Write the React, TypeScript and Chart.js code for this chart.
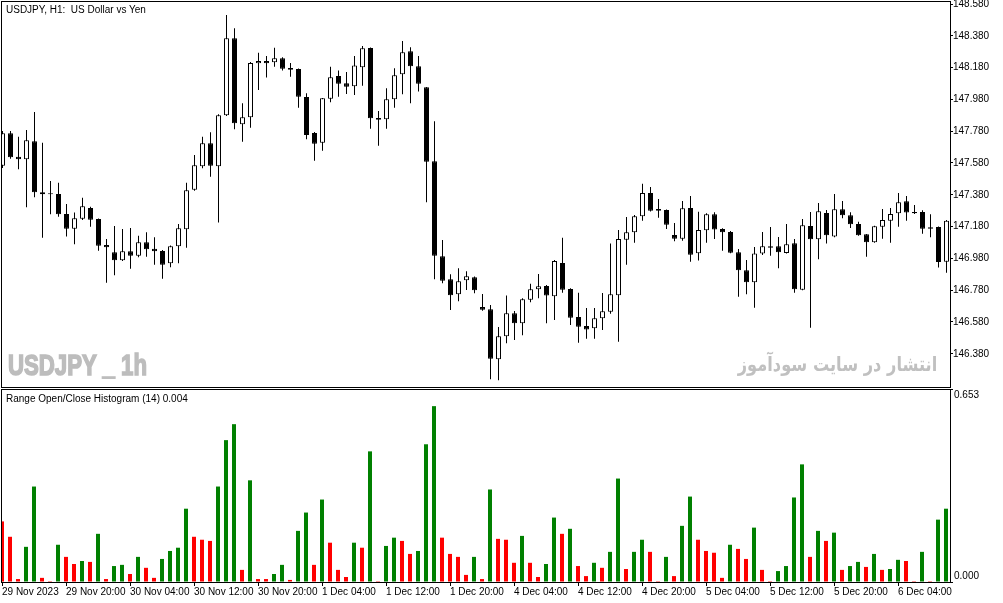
import { useEffect, useRef } from 'react';
import { Chart } from 'chart.js/auto';

// USDJPY H1 candles, left to right
const opens = [
  147.563, 147.767, 147.620, 147.603, 147.717, 147.396, 147.387, 147.385, 147.259, 147.167,
  147.230, 147.297, 147.228, 147.064, 147.018, 146.968, 147.025, 146.997, 147.081, 147.041,
  147.027, 146.949, 147.056, 147.163, 147.412, 147.559, 147.704, 147.559, 147.880, 148.364,
  147.823, 147.868, 148.207, 148.222, 148.213, 148.239, 148.178, 148.171, 147.995, 147.769,
  147.708, 147.984, 148.127, 148.081, 148.062, 148.182, 148.303, 147.863, 147.855, 147.981,
  148.138, 148.283, 148.188, 148.056, 147.591, 146.993, 146.849, 146.754, 146.842, 146.861,
  146.674, 146.660, 146.346, 146.490, 146.635, 146.572, 146.720, 146.786, 146.806, 146.742,
  146.951, 146.788, 146.612, 146.555, 146.540, 146.603, 146.645, 146.748, 147.098, 147.144,
  147.245, 147.391, 147.291, 147.284, 147.127, 147.104, 147.297, 147.012, 147.157, 147.257,
  147.165, 147.146, 147.018, 146.905, 146.830, 147.010, 147.056, 147.056, 147.014, 147.075,
  146.783, 147.184, 147.100, 147.266, 147.117, 147.289, 147.251, 147.196, 147.132, 147.081,
  147.179, 147.217, 147.264, 147.339, 147.272, 147.272, 147.176, 147.178, 146.959,
];
const highs = [
  147.781, 147.781, 147.745, 147.788, 147.901, 147.708, 147.467, 147.456, 147.322, 147.268,
  147.362, 147.305, 147.231, 147.102, 147.184, 147.165, 147.171, 147.123, 147.144, 147.113,
  147.033, 147.061, 147.196, 147.456, 147.630, 147.745, 147.773, 147.886, 148.511, 148.427,
  147.956, 148.215, 148.274, 148.253, 148.305, 148.245, 148.209, 148.174, 148.018, 147.775,
  147.989, 148.186, 148.161, 148.152, 148.253, 148.316, 148.307, 147.907, 148.050, 148.176,
  148.347, 148.308, 148.253, 148.058, 147.842, 147.096, 146.880, 146.918, 146.899, 146.866,
  146.756, 146.687, 146.549, 146.746, 146.649, 146.729, 146.821, 146.882, 146.813, 146.970,
  147.110, 146.792, 146.764, 146.668, 146.668, 146.762, 147.073, 147.159, 147.240, 147.253,
  147.450, 147.429, 147.354, 147.288, 147.203, 147.341, 147.373, 147.274, 147.264, 147.270,
  147.169, 147.152, 147.039, 146.970, 147.052, 147.146, 147.178, 147.115, 147.196, 147.102,
  147.228, 147.272, 147.328, 147.284, 147.385, 147.341, 147.270, 147.211, 147.134, 147.186,
  147.291, 147.297, 147.391, 147.373, 147.316, 147.283, 147.257, 147.181, 147.222,
];
const lows = [
  147.549, 147.607, 147.540, 147.301, 147.364, 147.110, 147.257, 147.242, 147.117, 147.069,
  147.222, 147.179, 147.028, 146.827, 146.874, 146.964, 146.915, 146.987, 146.991, 146.940,
  146.852, 146.924, 146.949, 147.047, 147.406, 147.547, 147.494, 147.205, 147.876, 147.792,
  147.714, 147.802, 148.039, 148.117, 148.186, 148.161, 148.123, 147.928, 147.729, 147.594,
  147.657, 147.962, 147.997, 148.014, 148.008, 148.066, 147.796, 147.689, 147.796, 147.928,
  148.012, 147.956, 148.029, 147.333, 146.849, 146.823, 146.656, 146.710, 146.781, 146.761,
  146.651, 146.220, 146.213, 146.446, 146.467, 146.496, 146.704, 146.729, 146.572, 146.593,
  146.764, 146.561, 146.450, 146.475, 146.475, 146.530, 146.632, 146.456, 146.940, 147.079,
  147.217, 147.275, 147.236, 147.165, 147.088, 147.091, 146.959, 146.966, 147.079, 147.102,
  147.028, 147.012, 146.739, 146.754, 146.670, 147.001, 146.997, 146.918, 147.011, 146.764,
  146.779, 146.544, 146.974, 147.073, 147.113, 147.232, 147.171, 147.122, 146.991, 147.079,
  147.104, 147.079, 147.179, 147.217, 147.259, 147.135, 147.113, 146.922, 146.890,
];
const closes = [
  147.767, 147.616, 147.603, 147.723, 147.396, 147.383, 147.383, 147.257, 147.167, 147.232,
  147.308, 147.223, 147.060, 147.050, 146.968, 147.025, 146.997, 147.081, 147.037, 147.025,
  146.940, 147.056, 147.169, 147.408, 147.566, 147.704, 147.563, 147.880, 148.364, 147.830,
  147.868, 148.209, 148.222, 148.207, 148.239, 148.173, 148.167, 147.997, 147.756, 147.701,
  147.987, 148.119, 148.079, 148.060, 148.194, 148.301, 147.861, 147.852, 147.981, 148.132,
  148.276, 148.188, 148.079, 147.588, 146.997, 146.840, 146.748, 146.836, 146.868, 146.779,
  146.657, 146.349, 146.490, 146.635, 146.572, 146.723, 146.786, 146.805, 146.746, 146.964,
  146.783, 146.607, 146.550, 146.532, 146.603, 146.647, 146.754, 147.102, 147.144, 147.245,
  147.391, 147.280, 147.280, 147.192, 147.104, 147.295, 147.003, 147.159, 147.257, 147.161,
  147.144, 147.016, 146.905, 146.830, 147.010, 147.056, 147.047, 147.018, 147.069, 146.786,
  147.188, 147.100, 147.276, 147.125, 147.289, 147.251, 147.195, 147.125, 147.081, 147.182,
  147.222, 147.259, 147.333, 147.268, 147.264, 147.167, 147.167, 146.957, 147.217,
];

// Range Open/Close Histogram (14)
const histValues = [
  0.205, 0.153, 0.010, 0.119, 0.323, 0.014, 0.003, 0.126, 0.085, 0.061,
  0.071, 0.068, 0.163, 0.010, 0.054, 0.058, 0.027, 0.085, 0.048, 0.014,
  0.078, 0.105, 0.116, 0.248, 0.153, 0.143, 0.139, 0.323, 0.480, 0.534,
  0.041, 0.344, 0.010, 0.010, 0.027, 0.058, 0.007, 0.173, 0.235, 0.058,
  0.279, 0.133, 0.041, 0.017, 0.133, 0.116, 0.442, 0.003, 0.122, 0.150,
  0.139, 0.095, 0.105, 0.466, 0.595, 0.150, 0.095, 0.085, 0.024, 0.085,
  0.010, 0.313, 0.146, 0.143, 0.065, 0.156, 0.065, 0.017, 0.061, 0.218,
  0.163, 0.180, 0.054, 0.020, 0.065, 0.048, 0.102, 0.350, 0.044, 0.102,
  0.143, 0.102, 0.003, 0.085, 0.020, 0.190, 0.289, 0.143, 0.105, 0.099,
  0.014, 0.126, 0.112, 0.078, 0.184, 0.041, 0.003, 0.037, 0.054, 0.286,
  0.398, 0.085, 0.173, 0.139, 0.167, 0.041, 0.054, 0.068, 0.051, 0.095,
  0.041, 0.044, 0.075, 0.071, 0.003, 0.102, 0.003, 0.211, 0.248,
];
// g = green bar, r = red bar
const histColors = (
  'rrrggrrgrr' + 'grgrggrgrr' + 'ggggrrrggg' + 'rgrrggrggr' +
  'grrrgrgrgg' + 'rrgggrrrrg' + 'rgrrrgrrgg' + 'rgrrgrggrg' +
  'grrgrggrrr' + 'rgrrgrrggg' + 'grgrgrggrg' + 'rggrrgrgg'
).split('');

const priceTicks = [146.38, 146.58, 146.78, 146.98, 147.18, 147.38, 147.58, 147.78, 147.98, 148.18, 148.38, 148.58];
const histTicks = [0, 0.653];
const timeTickIdx = [0, 8, 16, 24, 32, 40, 48, 56, 64, 72, 80, 88, 96, 104, 112];
const timeLabels = [
  '29 Nov 2023', '29 Nov 20:00', '30 Nov 04:00', '30 Nov 12:00', '30 Nov 20:00',
  '1 Dec 04:00', '1 Dec 12:00', '1 Dec 20:00', '4 Dec 04:00', '4 Dec 12:00',
  '4 Dec 20:00', '5 Dec 04:00', '5 Dec 12:00', '5 Dec 20:00', '6 Dec 04:00',
];

const FONT = { family: "'Liberation Sans', Arial, sans-serif", size: 10 };

const framePlugin = {
  id: 'frame',
  afterDraw(chart: Chart) {
    const { ctx, chartArea: a } = chart;
    ctx.save();
    ctx.strokeStyle = '#000';
    ctx.lineWidth = 1;
    ctx.strokeRect(a.left + 0.5, a.top + 0.5, a.right - a.left, a.bottom - a.top);
    ctx.restore();
  },
};

// MT5 keeps the edge labels inside the pane
const histLabelsPlugin = {
  id: 'histLabels',
  afterDraw(chart: Chart) {
    const { ctx } = chart;
    const s = chart.scales.y;
    ctx.save();
    ctx.fillStyle = '#000';
    ctx.font = `10px ${FONT.family}`;
    ctx.textAlign = 'left';
    histTicks.forEach((v, i) => {
      const y = s.getPixelForValue(v);
      ctx.textBaseline = i === 0 ? 'bottom' : 'top';
      ctx.fillText(v.toFixed(3), s.left + 4, i === 0 ? y - 1 : y + 1);
    });
    ctx.restore();
  },
};

export default function App() {
  const priceRef = useRef<HTMLCanvasElement | null>(null);
  const histRef = useRef<HTMLCanvasElement | null>(null);

  useEffect(() => {
    if (!priceRef.current || !histRef.current) return;

    const bodies = opens.map((o, i) => ({ x: i, y: [o, closes[i]] }));
    const wicks = lows.map((l, i) => ({ x: i, y: [l, highs[i]] }));
    const bodyFill = opens.map((o, i) => (closes[i] > o ? '#ffffff' : '#000000'));

    const priceChart = new Chart(priceRef.current, {
      type: 'bar',
      data: {
        datasets: [
          {
            label: 'body',
            data: bodies as any,
            backgroundColor: bodyFill,
            borderColor: '#000',
            borderWidth: 1,
            borderSkipped: false,
            barThickness: 5,
            minBarLength: 1,
            grouped: false,
            inflateAmount: 0,
            order: 0,
          },
          {
            label: 'wick',
            data: wicks as any,
            backgroundColor: '#000',
            borderWidth: 0,
            barThickness: 1,
            grouped: false,
            inflateAmount: 0,
            order: 1,
          },
        ],
      },
      options: {
        animation: false,
        responsive: false,
        events: [],
        layout: { padding: { left: 1, top: 1, right: 0, bottom: 2 } },
        plugins: { legend: { display: false }, tooltip: { enabled: false } },
        scales: {
          x: {
            type: 'linear',
            display: false,
            offset: false,
            min: -0.1875,
            max: 118.4375,
            grid: { offset: false },
          },
          y: {
            position: 'right',
            min: 146.1711,
            max: 148.5989,
            afterBuildTicks: (s: any) => {
              s.ticks = priceTicks.map((v) => ({ value: v }));
            },
            afterFit: (s: any) => {
              s.width = 53;
              s.paddingTop = 0;
              s.paddingBottom = 0;
            },
            grid: { drawOnChartArea: false, tickLength: 3, color: '#000' },
            border: { display: false },
            ticks: {
              color: '#000',
              font: FONT,
              padding: 0,
              callback: (v: any) => Number(v).toFixed(3),
            },
          },
        },
      },
      plugins: [framePlugin],
    });

    const histChart = new Chart(histRef.current, {
      type: 'bar',
      data: {
        datasets: [
          {
            label: 'Range Open/Close Histogram (14)',
            data: histValues.map((v, i) => ({ x: i, y: v })) as any,
            backgroundColor: histColors.map((c) => (c === 'g' ? '#008000' : '#ff0000')),
            borderWidth: 0,
            barThickness: 4,
            inflateAmount: 0,
          },
        ],
      },
      options: {
        animation: false,
        responsive: false,
        events: [],
        layout: { padding: { left: 1, top: 0, right: 0, bottom: 0 } },
        plugins: { legend: { display: false }, tooltip: { enabled: false } },
        scales: {
          x: {
            type: 'linear',
            offset: false,
            min: -0.125,
            max: 118.5,
            afterBuildTicks: (s: any) => {
              s.ticks = timeTickIdx.map((v) => ({ value: v }));
            },
            afterFit: (s: any) => {
              s.height = 21;
              s.paddingLeft = 0;
              s.paddingRight = 0;
            },
            grid: { drawOnChartArea: false, tickLength: 4, color: '#000', offset: false },
            border: { display: false },
            ticks: {
              autoSkip: false,
              maxRotation: 0,
              align: 'start',
              padding: 0,
              color: '#000',
              font: FONT,
              callback: (_v: any, i: number) => timeLabels[i],
            },
          },
          y: {
            position: 'right',
            min: 0,
            max: 0.653,
            afterBuildTicks: (s: any) => {
              s.ticks = histTicks.map((v) => ({ value: v }));
            },
            afterFit: (s: any) => {
              s.width = 53;
              s.paddingTop = 0;
              s.paddingBottom = 0;
            },
            grid: { drawOnChartArea: false, tickLength: 3, color: '#000' },
            border: { display: false },
            ticks: { display: false },
          },
        },
      },
      plugins: [framePlugin, histLabelsPlugin],
    });

    return () => {
      priceChart.destroy();
      histChart.destroy();
    };
  }, []);

  const label = {
    position: 'absolute' as const,
    fontFamily: FONT.family,
    fontSize: 10,
    lineHeight: '12px',
    color: '#000',
    whiteSpace: 'pre' as const,
    pointerEvents: 'none' as const,
  };

  return (
    <div
      style={{
        position: 'fixed',
        left: 0,
        top: 0,
        width: 1003,
        height: 603,
        background: '#fff',
        overflow: 'hidden',
      }}
    >
      <canvas
        ref={priceRef}
        width={1003}
        height={389}
        style={{ position: 'absolute', left: 0, top: 0, width: 1003, height: 389 }}
      />
      <canvas
        ref={histRef}
        width={1003}
        height={214}
        style={{ position: 'absolute', left: 0, top: 389, width: 1003, height: 214 }}
      />
      <div style={{ ...label, left: 6, top: 4 }}>USDJPY, H1:  US Dollar vs Yen</div>
      <div style={{ ...label, left: 6, top: 393 }}>Range Open/Close Histogram (14) 0.004</div>
      <div
        style={{
          ...label,
          left: 8,
          top: 350,
          fontSize: 30,
          lineHeight: '30px',
          fontWeight: 'bold',
          color: '#bdbdbd',
          WebkitTextStroke: '1.6px #bdbdbd',
          transform: 'scaleX(0.74)',
          transformOrigin: 'left top',
        }}
      >
        USDJPY _ 1h
      </div>
      <div
        dir="rtl"
        style={{
          ...label,
          right: 66,
          top: 350,
          fontFamily: "'DejaVu Sans', sans-serif",
          fontSize: 20,
          lineHeight: '28px',
          fontWeight: 'bold',
          color: '#c0c0c0',
          transform: 'scaleX(0.81)',
          transformOrigin: 'right top',
        }}
      >
        انتشار در سایت سودآموز
      </div>
    </div>
  );
}
